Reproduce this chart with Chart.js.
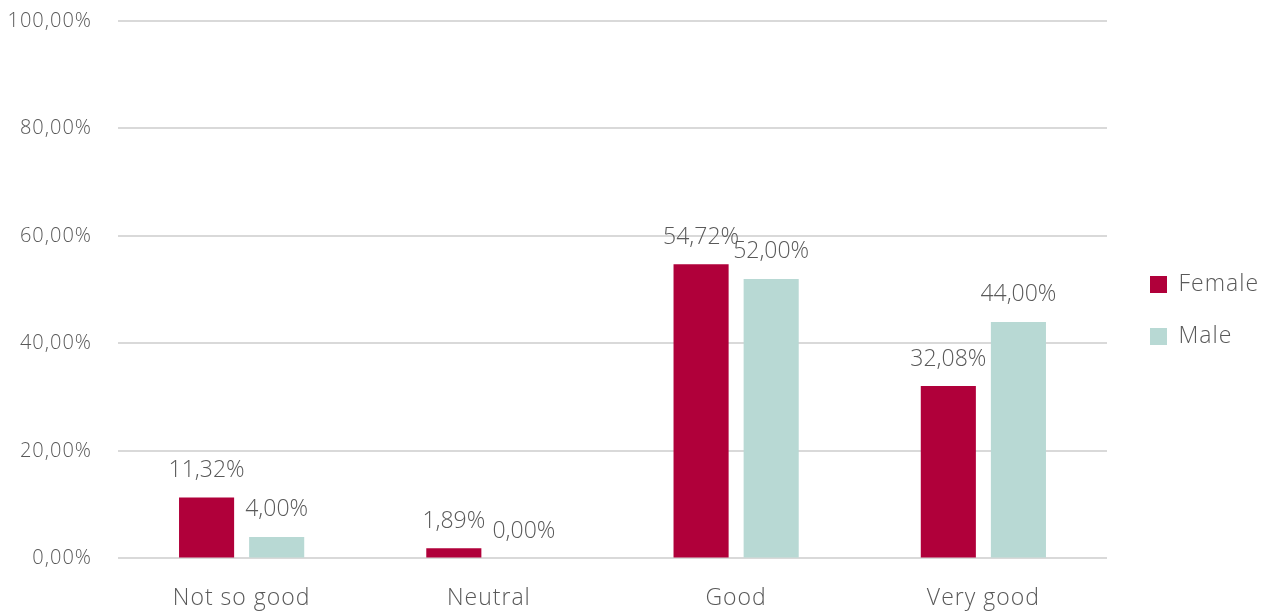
<!DOCTYPE html>
<html>
<head>
<meta charset="utf-8">
<script src="https://cdn.jsdelivr.net/npm/chart.js@4/dist/chart.umd.min.js"></script>
<style>
  html, body { margin: 0; padding: 0; background: #fff; }
  #myChart { display: block; }
</style>
</head>
<body>
<canvas id="myChart" width="1273" height="615"></canvas>
<script>
// categories and percentages per gender
const categories = ["Not so good", "Neutral", "Good", "Very good"];
const female = [11.32, 1.89, 54.72, 32.08];
const male = [4.00, 0.00, 52.00, 44.00];
const yTicks = [0, 20, 40, 60, 80, 100];

const textColor = "#595959";
const fontFamily = "'Open Sans', Lato, sans-serif";
const font = { family: fontFamily, size: 23, weight: 300 };

const fmt = v => v.toFixed(2).replace(".", ",") + "%";

// a little tracking so the light font is not too narrow
const spacing = {
    id: "spacing",
    beforeLayout(chart) { chart.ctx.letterSpacing = "1px"; },
    beforeDraw(chart) { chart.ctx.letterSpacing = "1px"; }
};

// move the legend block a bit right/up from where it lands
const legendNudge = {
    id: "legendNudge",
    afterLayout(chart) {
        const l = chart.legend;
        l.left += 14; l.right += 14;
        l.top -= 15; l.bottom -= 15;
    }
};

// draws the value above every bar
const valueLabels = {
    id: "valueLabels",
    afterDatasetsDraw(chart) {
        const ctx = chart.ctx;
        ctx.save();
        ctx.letterSpacing = "0px";
        ctx.fillStyle = textColor;
        ctx.font = "300 23px " + fontFamily;
        ctx.textAlign = "center";
        ctx.textBaseline = "middle";
        chart.data.datasets.forEach((ds, i) => {
            chart.getDatasetMeta(i).data.forEach((bar, j) => {
                ctx.fillText(fmt(ds.data[j]), bar.x, bar.y - 27);
            });
        });
        ctx.restore();
    }
};

var ctx = document.getElementById("myChart").getContext("2d");
var chart = new Chart(ctx, {
    type: "bar",
    data: {
        labels: categories,
        datasets: [{
            label: "Female",
            backgroundColor: "#B0003A",
            data: female
        }, {
            label: "Male",
            backgroundColor: "#B8D9D4",
            data: male
        }]
    },
    options: {
        responsive: false,
        animation: false,
        categoryPercentage: 0.567,
        barPercentage: 0.786,
        layout: { padding: { top: 21, right: 26, left: 0, bottom: -15 } },
        plugins: {
            legend: {
                position: "right",
                maxWidth: 140,
                labels: {
                    boxWidth: 17,
                    boxHeight: 17,
                    padding: 29,
                    color: textColor,
                    font: font
                }
            },
            tooltip: { enabled: false }
        },
        scales: {
            x: {
                grid: { display: false },
                border: { display: false },
                ticks: {
                    color: textColor,
                    padding: 18,
                    font: font
                }
            },
            y: {
                min: 0,
                max: 100,
                afterBuildTicks: axis => { axis.ticks = yTicks.map(v => ({ value: v })); },
                afterFit: axis => { axis.width = 118; axis.paddingTop = 0; },
                border: { display: false },
                grid: { color: "#d9d9d9", lineWidth: 2, drawTicks: false },
                ticks: {
                    color: textColor,
                    padding: 26,
                    font: { family: fontFamily, size: 20, weight: 300 },
                    callback: v => fmt(v)
                }
            }
        }
    },
    plugins: [spacing, legendNudge, valueLabels]
});
</script>
</body>
</html>
